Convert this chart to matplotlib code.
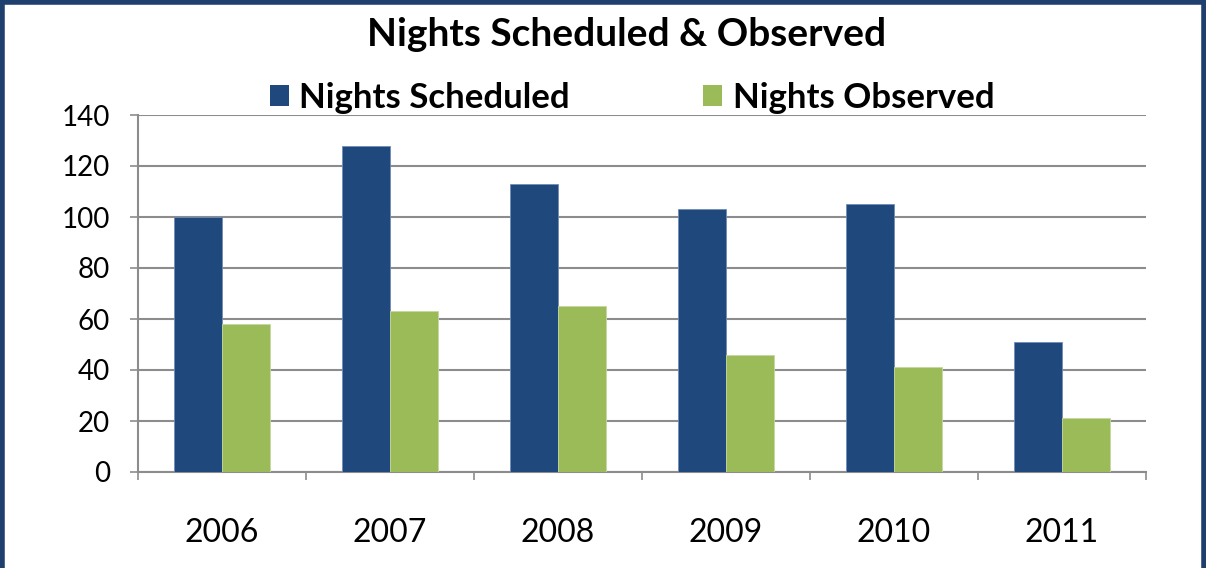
import matplotlib
matplotlib.use("Agg")
import matplotlib.pyplot as plt
from matplotlib.patches import Patch
from matplotlib.lines import Line2D
import numpy as np

years = ["2006", "2007", "2008", "2009", "2010", "2011"]
scheduled = [100, 128, 113, 103, 105, 51]
observed = [58, 63, 65, 46, 41, 21]
series_names = ["Nights Scheduled", "Nights Observed"]
title = "Nights Scheduled & Observed"
yticks = [0, 20, 40, 60, 80, 100, 120, 140]

BLUE = "#1F497D"
GREEN = "#9BBB59"
GRID = "#8C8C8C"
FRAME = "#1F3F6E"

plt.rcParams['font.family'] = ['Lato', 'DejaVu Sans']

fig = plt.figure(figsize=(12.06, 5.68), dpi=100)
ax = fig.add_axes([138/1206, 1 - 472/568, (1146-138)/1206, (472-115)/568])

x = np.arange(len(years)) + 0.5
w = 0.283
ax.bar(x - w/2, scheduled, w, color=BLUE, edgecolor="#6F8DB5", linewidth=0.6, zorder=3)
ax.bar(x + w/2, observed, w, color=GREEN, edgecolor="#C4D8A0", linewidth=0.6, zorder=3)

ax.set_xlim(0, len(years))
ax.set_ylim(0, 140)
ax.set_yticks(yticks)
ax.set_yticklabels([str(v) for v in yticks], fontsize=20)
ax.set_xticks(np.arange(len(years) + 1))
ax.set_xticklabels([])
ax.set_xticks(x, minor=True)
ax.set_xticklabels(years, minor=True, fontsize=23)
ax.tick_params(axis='x', which='minor', length=0, pad=33)
ax.tick_params(axis='x', which='major', length=6, width=1.2, color=GRID, direction='out')
ax.tick_params(axis='y', length=6, width=1.2, color=GRID, direction='out', pad=14)

ax.grid(axis='y', color=GRID, linewidth=1.5, zorder=0)
for s in ["top", "right"]:
    ax.spines[s].set_visible(False)
for s in ["left", "bottom"]:
    ax.spines[s].set_color(GRID)
    ax.spines[s].set_linewidth(1.5)

fig.text(627/1206, 1 - 35/568, title, ha='center', va='center', fontsize=28, fontweight='bold')

handles = [Patch(facecolor=BLUE), Patch(facecolor=GREEN)]
leg = fig.legend(handles, series_names, loc='center', bbox_to_anchor=(632/1206, 1 - 98/568),
                 ncol=2, frameon=False, prop={'size': 25, 'weight': 'bold'},
                 handlelength=0.55, handleheight=0.55, handletextpad=0.3, columnspacing=3.85,
                 borderpad=0, borderaxespad=0)

# frame
lw = 4
fig.add_artist(Line2D([0.002, 0.002], [0, 0.997], transform=fig.transFigure, color=FRAME, linewidth=lw))
fig.add_artist(Line2D([0.002, 0.998], [0.997, 0.997], transform=fig.transFigure, color=FRAME, linewidth=lw))
fig.add_artist(Line2D([0.998, 0.998], [0, 0.997], transform=fig.transFigure, color=FRAME, linewidth=lw))

fig.savefig("out.png", dpi=100)
